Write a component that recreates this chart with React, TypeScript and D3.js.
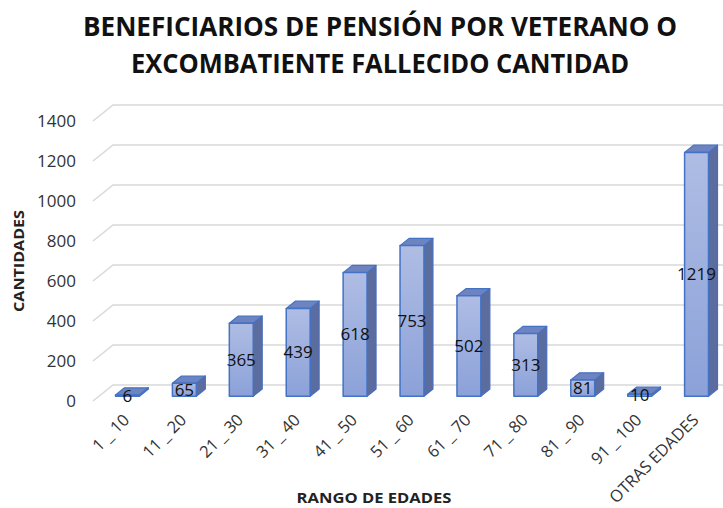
import React from 'react';
import * as d3 from 'd3';

const categories = ['1 _ 10', '11 _ 20', '21 _ 30', '31 _ 40', '41 _ 50', '51 _ 60', '61 _ 70', '71 _ 80', '81 _ 90', '91 _ 100', 'OTRAS EDADES'];
const values = [6, 65, 365, 439, 618, 753, 502, 313, 81, 10, 1219];
const yTicks = [0, 200, 400, 600, 800, 1000, 1200, 1400];
const titleLines = ['BENEFICIARIOS DE PENSIÓN POR VETERANO O', 'EXCOMBATIENTE FALLECIDO CANTIDAD'];

const W = 723;
const H = 508;
// 3d depth offset of the back wall
const DX = 20;
const DY = 16;
const Z0 = 0.3;
const Z1 = 0.75;
const FONT = '"Open Sans", sans-serif';

const App = () => {
  const x = d3.scaleBand<string>()
    .domain(categories)
    .range([93, 719])
    .paddingInner(0.58)
    .paddingOuter(0.29);

  const y = d3.scaleLinear().domain([0, 1400]).range([401, 121]);

  const px = (xv: number, z: number) => xv + z * DX;
  const py = (yv: number, z: number) => yv - z * DY;

  const bw = x.bandwidth();

  return (
    <svg width={W} height={H} style={{ position: 'absolute', left: 0, top: 0, background: '#fff' }}>
      <defs>
        <linearGradient id="front" x1="0" y1="0" x2="0" y2="1">
          <stop offset="0%" stopColor="#afbde4" />
          <stop offset="100%" stopColor="#8ba1d8" />
        </linearGradient>
        <clipPath id="clip">
          <rect x={0} y={0} width={W} height={H} />
        </clipPath>
      </defs>

      {titleLines.map((t, i) => (
        <text key={t} x={380} y={36 + i * 37} textAnchor="middle" fontFamily={FONT} fontWeight="bold"
          fontSize={27} fill="#111" textLength={i === 0 ? 594 : 498} lengthAdjust="spacingAndGlyphs">{t}</text>
      ))}

      {/* gridlines on side wall and back wall */}
      <g clipPath="url(#clip)" stroke="#d9d9d9" strokeWidth={1.6} fill="none">
        {yTicks.map(t => (
          <polyline key={t}
            points={`93,${y(t)} ${93 + DX},${y(t) - DY} ${719 + DX},${y(t) - DY}`} />
        ))}
      </g>

      {/* y tick labels */}
      <g fontFamily={FONT} fontSize={17} fill="#333" textAnchor="end">
        {yTicks.map(t => (
          <text key={t} x={76} y={y(t)} dy="0.35em">{t}</text>
        ))}
      </g>

      {/* bars */}
      <g strokeLinejoin="round">
        {categories.map((c, i) => {
          const x0 = x(c)!;
          const x1 = x0 + bw;
          const yb = y(0);
          const yt = y(values[i]);
          const fl = px(x0, Z0), fr = px(x1, Z0);
          const ft = py(yt, Z0), fb = py(yb, Z0);
          const bl = px(x0, Z1), br = px(x1, Z1);
          const bt = py(yt, Z1), bb = py(yb, Z1);
          return (
            <g key={c}>
              <polygon points={`${fr},${ft} ${br},${bt} ${br},${bb} ${fr},${fb}`}
                fill="#5b6d9e" stroke="#4a6cc0" strokeWidth={1.2} />
              <polygon points={`${fl},${ft} ${bl},${bt} ${br},${bt} ${fr},${ft}`}
                fill="#6d84c0" stroke="#4472c4" strokeWidth={1.2} />
              <rect x={fl} y={ft} width={fr - fl} height={Math.max(fb - ft, 0.01)}
                fill="url(#front)" stroke="#4472c4" strokeWidth={1.5} />
            </g>
          );
        })}
      </g>

      {/* value labels */}
      <g fontFamily={FONT} fontSize={17} fill="#111" textAnchor="middle">
        {categories.map((c, i) => {
          const cx = px(x(c)! + bw / 2, Z0);
          const cy = py((y(0) + y(values[i])) / 2, Z0);
          return <text key={c} x={cx} y={cy} dy="0.35em">{values[i]}</text>;
        })}
      </g>

      {/* x tick labels */}
      <g fontFamily={FONT} fontSize={16.5} fill="#333" textAnchor="end">
        {categories.map(c => {
          const cx = x(c)! + bw / 2 + 9;
          const cy = 421;
          return (
            <text key={c} transform={`translate(${cx},${cy}) rotate(-45)`}>{c}</text>
          );
        })}
      </g>

      <text x={374} y={503} textAnchor="middle" fontFamily={FONT} fontWeight="bold" fontSize={15}
        fill="#222" textLength={155} lengthAdjust="spacingAndGlyphs">RANGO DE EDADES</text>
      <text transform="translate(24,261) rotate(-90)" textAnchor="middle" fontFamily={FONT} fontWeight="bold"
        fontSize={15} fill="#222" textLength={102} lengthAdjust="spacingAndGlyphs">CANTIDADES</text>
    </svg>
  );
};

export default App;
